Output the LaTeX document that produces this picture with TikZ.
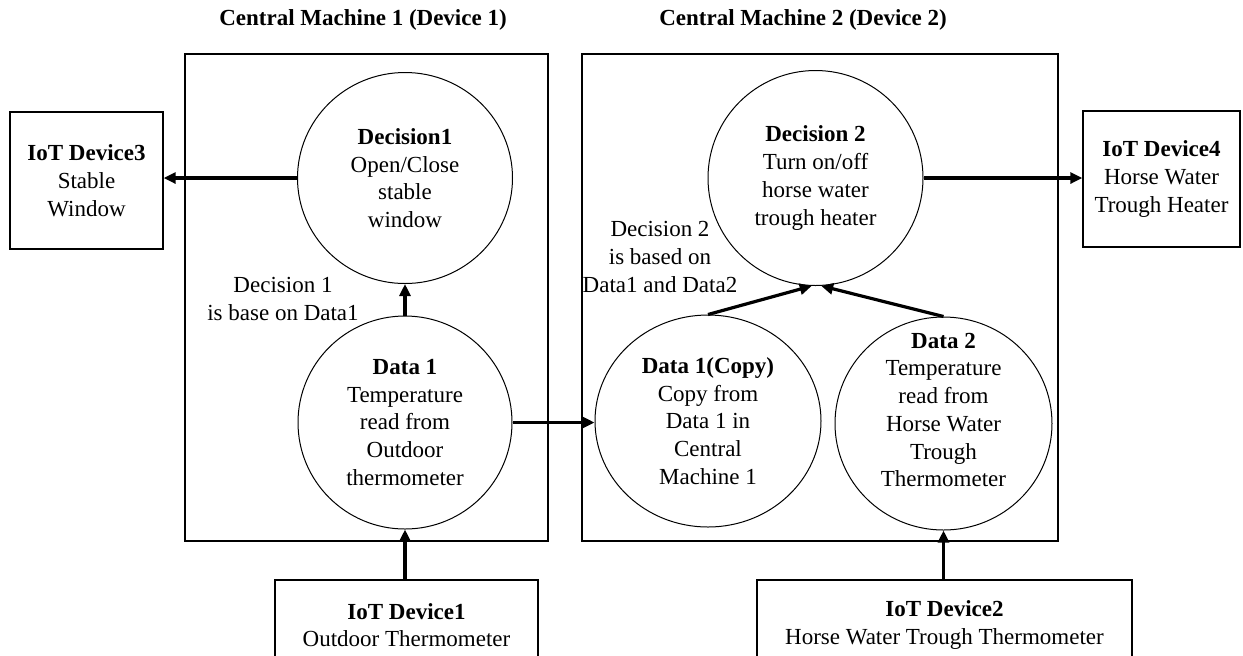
\documentclass[tikz,border=0pt]{standalone}
\usepackage{fontspec}
\setmainfont{Liberation Serif}
\usetikzlibrary{arrows.meta,shapes.geometric}

\newcommand{\basefont}{\fontsize{11.5}{13.85}\selectfont}

\tikzset{
  iotbox/.style={draw, line width=0.7pt, align=center, inner sep=0pt, font=\basefont},
  bubble/.style={draw, ellipse, line width=0.5pt, align=center, inner sep=0pt, font=\basefont},
  note/.style={align=center, inner sep=0pt, font=\basefont},
  feed/.style={line width=1.6pt, -{Triangle[length=6pt,width=5.5pt]}},
  frame/.style={line width=0.7pt},
}

\begin{document}
\begin{tikzpicture}[x=0.5pt,y=-0.5pt]
  \clip (0,0) rectangle (1243,655);
  % central machines
  \draw[frame] (185,54) rectangle (548,541);
  \draw[frame] (582,54) rectangle (1058,541);
  \node[note, font=\basefont\bfseries] (cm1) at (363,20) {Central Machine 1 (Device 1)};
  \node[note, font=\basefont\bfseries] (cm2) at (803,20) {Central Machine 2 (Device 2)};

  % iot devices
  \node[iotbox, minimum width=76.5pt, minimum height=68.5pt] (iot3) at (86.5,180.5) {\textbf{IoT Device3}\\Stable\\Window};
  \node[iotbox, minimum width=78.5pt, minimum height=68pt] (iot4) at (1161.5,179) {\textbf{IoT Device4}\\Horse Water\\Trough Heater};
  \node[iotbox, minimum width=131.5pt, minimum height=45pt] (iot1) at (406.5,625) {\textbf{IoT Device1}\\Outdoor Thermometer};
  \node[iotbox, minimum width=187.5pt, minimum height=45pt] (iot2) at (944.5,625) {\textbf{IoT Device2}\\Horse Water Trough Thermometer};

  % data and decisions
  \node[bubble, minimum width=107.5pt, minimum height=105.5pt] (dec1) at (405,178) {\textbf{Decision1}\\Open/Close\\stable\\window};
  \node[bubble, minimum width=107pt, minimum height=106.5pt] (data1) at (405,422.5) {\textbf{Data 1}\\Temperature\\read from\\Outdoor\\thermometer};
  \node[bubble, minimum width=107.5pt, minimum height=107.5pt] (dec2) at (815.5,178) {\textbf{Decision 2}\\Turn on/off\\horse water\\trough heater};
  \node[bubble, minimum width=113pt, minimum height=106pt] (dcopy) at (708,421) {\textbf{Data 1(Copy)}\\Copy from\\Data 1 in\\Central\\Machine 1};
  \node[bubble, minimum width=108.5pt, minimum height=106.5pt] (data2) at (943.5,423.5) {};
  \node[note] (data2txt) at (943.5,410) {\textbf{Data 2}\\Temperature\\read from\\Horse Water\\Trough\\Thermometer};

  \node[note] (why1) at (283,299) {Decision 1\\is base on Data1};
  \node[note] (why2) at (660,257) {Decision 2\\is based on\\Data1 and Data2};

  % links
  \draw[feed] (dec1.west) -- (dec1.west -| iot3.east);
  \draw[feed] (data1.north) -- (dec1.south);
  \draw[feed] (data1.east) -- (data1.east -| dcopy.west);
  \draw[feed] (iot1.north -| data1.south) -- (data1.south);
  \draw[feed] (iot2.north -| data2.south) -- (data2.south);
  \draw[feed] (dcopy.north) -- (dec2.268);
  \draw[feed] (data2.north) -- (dec2.273);
  \draw[feed] (dec2.east) -- (dec2.east -| iot4.west);
\end{tikzpicture}
\end{document}
